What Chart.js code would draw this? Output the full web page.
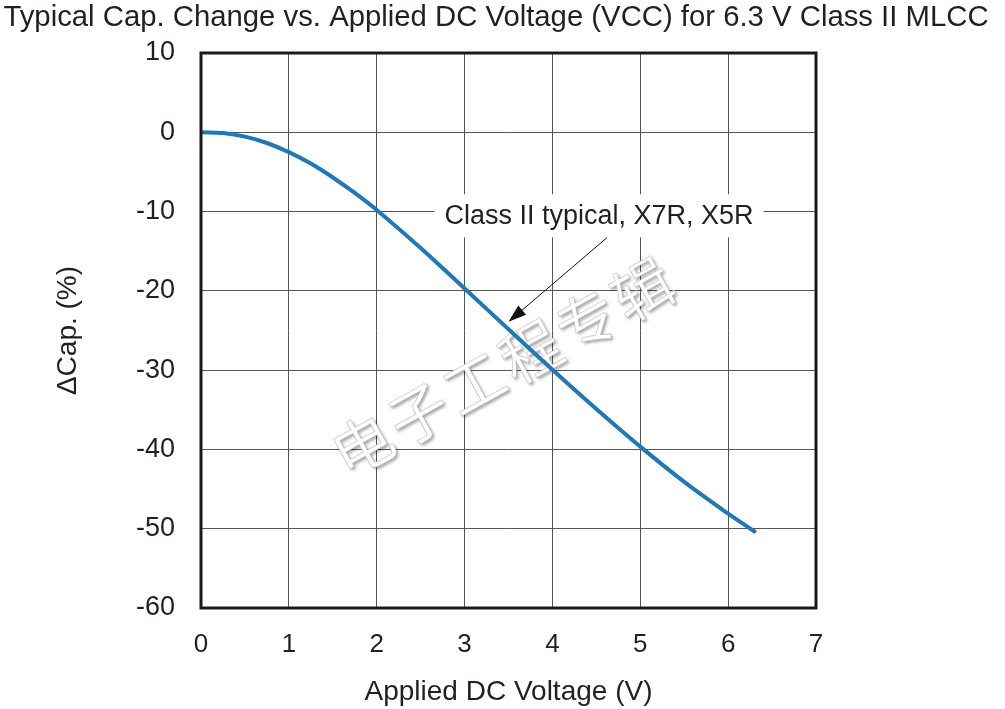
<!DOCTYPE html>
<html>
<head>
<meta charset="utf-8">
<script src="https://cdn.jsdelivr.net/npm/chart.js@4.4.1/dist/chart.umd.min.js"></script>
<style>
html,body{margin:0;padding:0;background:#fff;}
#wrap{width:1005px;height:709px;position:relative;}
</style>
</head>
<body>
<div id="wrap"><canvas id="c"></canvas></div>
<script>
const chartTitle = "Typical Cap. Change vs. Applied DC Voltage (VCC) for 6.3 V Class II MLCC";
const xAxisTitle = "Applied DC Voltage (V)";
const yAxisTitle = "\u0394Cap. (%)";
const seriesLabel = "Class II typical, X7R, X5R";
const watermarkText = "电子工程专辑";
const voltage = [0, 0.25, 0.5, 0.75, 1, 1.25, 1.5, 1.75, 2, 2.5, 3, 3.5, 4, 4.5, 5, 5.5, 6, 6.3];
const capChange = [0, -0.1, -0.55, -1.35, -2.5, -3.95, -5.7, -7.65, -9.8, -14.6, -19.7, -24.85, -29.95, -34.9, -39.65, -44.1, -48.1, -50.35];
const xTicks = [0, 1, 2, 3, 4, 5, 6, 7];
const yTicks = [10, 0, -10, -20, -30, -40, -50, -60];

const FONT = "'Liberation Sans', Arial, sans-serif";
const TXT = '#231f20';

const overlay = {
  id: 'overlay',
  beforeDatasetsDraw(chart) {
    const ctx = chart.ctx;
    const xs = chart.scales.x, ys = chart.scales.y;
    // watermark
    ctx.save();
    const cx = xs.getPixelForValue(3.45), cy = ys.getPixelForValue(-29.5);
    ctx.translate(cx, cy);
    ctx.rotate(-29 * Math.PI / 180);
    ctx.font = "60px 'Noto Sans CJK SC'";
    ctx.textAlign = 'center';
    ctx.textBaseline = 'middle';
    ctx.letterSpacing = '4px';
    ctx.shadowColor = 'rgba(0,0,0,0.35)';
    ctx.shadowBlur = 3;
    ctx.shadowOffsetX = 2;
    ctx.shadowOffsetY = 2;
    ctx.fillStyle = '#ffffff';
    ctx.fillText(watermarkText, 0, 0);
    ctx.shadowColor = 'transparent';
    ctx.strokeStyle = 'rgba(170,170,170,0.6)';
    ctx.lineWidth = 0.8;
    ctx.strokeText(watermarkText, 0, 0);
    ctx.restore();
    // annotation label with white box
    ctx.save();
    const lx = xs.getPixelForValue(4.53), ly = ys.getPixelForValue(-10.6);
    ctx.font = "27px " + FONT;
    const w = ctx.measureText(seriesLabel).width;
    ctx.fillStyle = '#fff';
    ctx.fillRect(lx - w / 2 - 10, ly - 22, w + 20, 43);
    ctx.fillStyle = TXT;
    ctx.textAlign = 'center';
    ctx.textBaseline = 'middle';
    ctx.fillText(seriesLabel, lx, ly);
    ctx.restore();
  },
  afterDatasetsDraw(chart) {
    const ctx = chart.ctx;
    const xs = chart.scales.x, ys = chart.scales.y;
    const a = chart.chartArea;
    // arrow
    ctx.save();
    const x1 = xs.getPixelForValue(4.62), y1 = ys.getPixelForValue(-13.3);
    const x2 = xs.getPixelForValue(3.5), y2 = ys.getPixelForValue(-23.9);
    const ang = Math.atan2(y2 - y1, x2 - x1);
    ctx.strokeStyle = '#111';
    ctx.lineWidth = 1;
    ctx.beginPath();
    ctx.moveTo(x1, y1);
    ctx.lineTo(x2 - 14 * Math.cos(ang), y2 - 14 * Math.sin(ang));
    ctx.stroke();
    ctx.fillStyle = '#111';
    ctx.beginPath();
    ctx.moveTo(x2, y2);
    ctx.lineTo(x2 - 18 * Math.cos(ang) + 6 * Math.sin(ang), y2 - 18 * Math.sin(ang) - 6 * Math.cos(ang));
    ctx.lineTo(x2 - 18 * Math.cos(ang) - 6 * Math.sin(ang), y2 - 18 * Math.sin(ang) + 6 * Math.cos(ang));
    ctx.closePath();
    ctx.fill();
    // frame
    ctx.strokeStyle = '#1a1a1a';
    ctx.lineWidth = 3;
    ctx.strokeRect(a.left, a.top, a.right - a.left, a.bottom - a.top);
    ctx.restore();
    // title
    ctx.save();
    ctx.font = "29.3px " + FONT;
    ctx.fillStyle = TXT;
    ctx.textAlign = 'center';
    ctx.textBaseline = 'middle';
    ctx.fillText(chartTitle, 496, 18);
    ctx.restore();
  }
};

new Chart(document.getElementById('c'), {
  type: 'line',
  data: {
    datasets: [{
      label: seriesLabel,
      data: voltage.map((v, i) => ({ x: v, y: capChange[i] })),
      borderColor: '#2079b4',
      borderWidth: 4,
      pointRadius: 0,
      fill: false,
      tension: 0.35,
      borderCapStyle: 'round'
    }]
  },
  options: {
    responsive: true,
    maintainAspectRatio: false,
    animation: false,
    layout: { padding: { top: 53, right: 189, left: 0, bottom: 0 } },
    plugins: { legend: { display: false }, title: { display: false }, tooltip: { enabled: false } },
    scales: {
      x: {
        type: 'linear', min: 0, max: 7,
        afterBuildTicks: s => { s.ticks = xTicks.map(v => ({ value: v })); },
        afterFit: s => { s.height = 101; },
        ticks: { color: TXT, font: { family: FONT, size: 26 }, padding: 21, maxRotation: 0 },
        grid: { color: '#555', lineWidth: 1, drawTicks: false },
        border: { display: false },
        title: { display: true, text: xAxisTitle, color: TXT, font: { family: FONT, size: 28 }, padding: { top: 0, bottom: 0 } }
      },
      y: {
        type: 'linear', min: -60, max: 10,
        afterBuildTicks: s => { s.ticks = yTicks.map(v => ({ value: v })); },
        afterFit: s => { s.width = 201; },
        ticks: { color: TXT, font: { family: FONT, size: 27 }, padding: 26 },
        grid: { color: '#555', lineWidth: 1, drawTicks: false },
        border: { display: false },
        title: { display: true, text: yAxisTitle, color: TXT, font: { family: FONT, size: 28 }, padding: { top: 51, bottom: 0 } }
      }
    }
  },
  plugins: [overlay]
});
</script>
</body>
</html>
